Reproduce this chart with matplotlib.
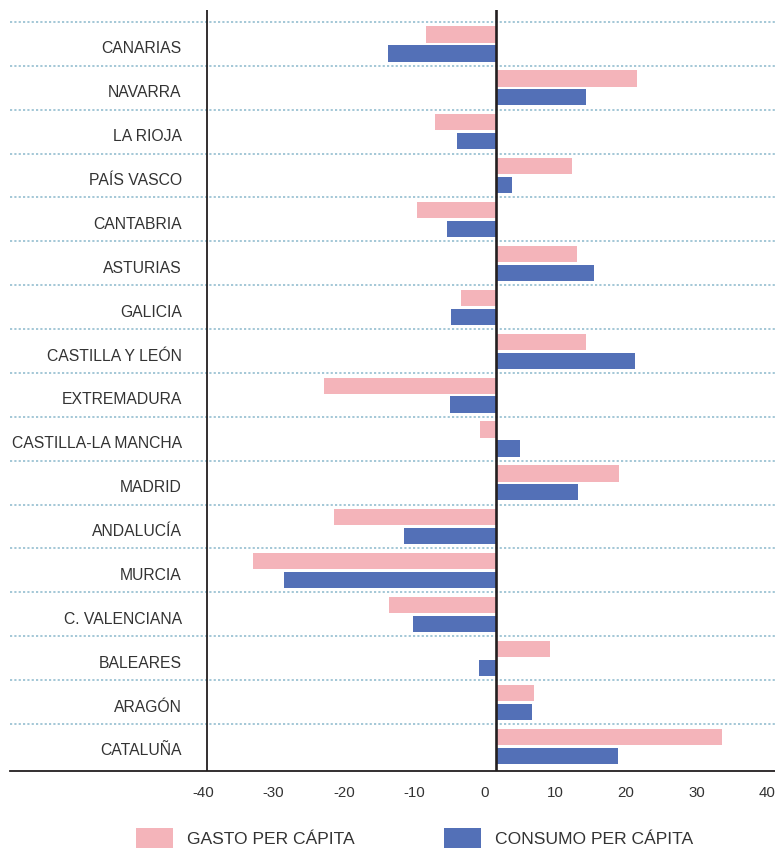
import matplotlib
matplotlib.use("Agg")
import matplotlib.pyplot as plt
import numpy as np
from matplotlib.patches import Patch
from matplotlib.transforms import ScaledTranslation

plt.rcParams['font.family'] = ['Liberation Sans', 'DejaVu Sans']

regions = ["CANARIAS", "NAVARRA", "LA RIOJA", "PAÍS VASCO", "CANTABRIA", "ASTURIAS",
           "GALICIA", "CASTILLA Y LEÓN", "EXTREMADURA", "CASTILLA-LA MANCHA", "MADRID",
           "ANDALUCÍA", "MURCIA", "C. VALENCIANA", "BALEARES", "ARAGÓN", "CATALUÑA"]
gasto = [-9.7, 19.5, -8.4, 10.5, -10.9, 11.2, -4.8, 12.5, -23.8, -2.2, 17.0,
         -22.4, -33.6, -14.8, 7.5, 5.3, 31.3]
consumo = [-14.9, 12.5, -5.4, 2.2, -6.8, 13.6, -6.2, 19.2, -6.4, 3.3, 11.3,
           -12.7, -29.3, -11.5, -2.4, 5.0, 16.9]
tick_values = [-40, -30, -20, -10, 0, 10, 20, 30, 40]
legend_labels = ["GASTO PER CÁPITA", "CONSUMO PER CÁPITA"]

PINK = "#f4b4ba"
BLUE = "#5370b7"
DARK = "#231f20"
TEXT = "#333333"
DOT = "#9cc3d3"

W, H = 775, 849
fig = plt.figure(figsize=(W / 100, H / 100), dpi=100)

xmin, xmax = -41.0, 38.6
ax_left_px = 199.8
ax = fig.add_axes([ax_left_px / W, 1 - 771 / H, 1 - ax_left_px / W, (771 - 10) / H])

y = np.arange(len(regions))
ax.barh(y - 0.21, gasto, height=0.37, color=PINK, zorder=2)
ax.barh(y + 0.22, consumo, height=0.37, color=BLUE, zorder=2)

ax.set_xlim(xmin, xmax)
ax.set_ylim(16.57, -0.77)

for s in ax.spines.values():
    s.set_visible(False)

# dotted separators extend into label area
ext = (10 - ax_left_px) / (W - ax_left_px)
for yy in np.arange(-0.5, len(regions) - 1, 1.0):
    ax.axhline(yy, xmin=ext, xmax=1, color=DOT, lw=1.3, ls=(0, (1.2, 1.2)),
               clip_on=False, zorder=1)
# bottom axis line
ax.axhline(16.57, xmin=ext, xmax=1, color=DARK, lw=1.3, clip_on=False, zorder=3)
# left boundary line at -40 and zero line
ax.axvline(-40, color=DARK, lw=1.3, zorder=3)
ax.axvline(0, color=DARK, lw=1.9, zorder=3)

ax.set_yticks(y)
ax.set_yticklabels(regions, fontsize=11.3, color=TEXT)
ax.tick_params(axis='y', length=0, pad=13)
for lab in ax.get_yticklabels():
    lab.set_transform(lab.get_transform() + ScaledTranslation(0, -0.035, fig.dpi_scale_trans))

ax.set_xticks([])

# tick label scale as printed in the reference
def f(x):
    return 1.560 + 1.0248 * x

def finv(s):
    return (s - 1.560) / 1.0248

sec = ax.secondary_xaxis('bottom', functions=(f, finv))
sec.set_xticks(tick_values)
sec.set_xticklabels([str(v) for v in tick_values], fontsize=10.8, color=TEXT)
sec.tick_params(length=0, pad=10.5)
sec.spines['bottom'].set_visible(False)

handles = [Patch(facecolor=PINK, edgecolor='none'), Patch(facecolor=BLUE, edgecolor='none')]
leg = fig.legend(handles, legend_labels, loc='lower left', bbox_to_anchor=(136 / W, 1 / H),
                 ncol=2, frameon=False, fontsize=12.6, handlelength=2.11, handleheight=1.38,
                 handletextpad=0.8, columnspacing=5.09, borderpad=0, borderaxespad=0)
for t in leg.get_texts():
    t.set_color(TEXT)

fig.savefig("out.png", dpi=100)
